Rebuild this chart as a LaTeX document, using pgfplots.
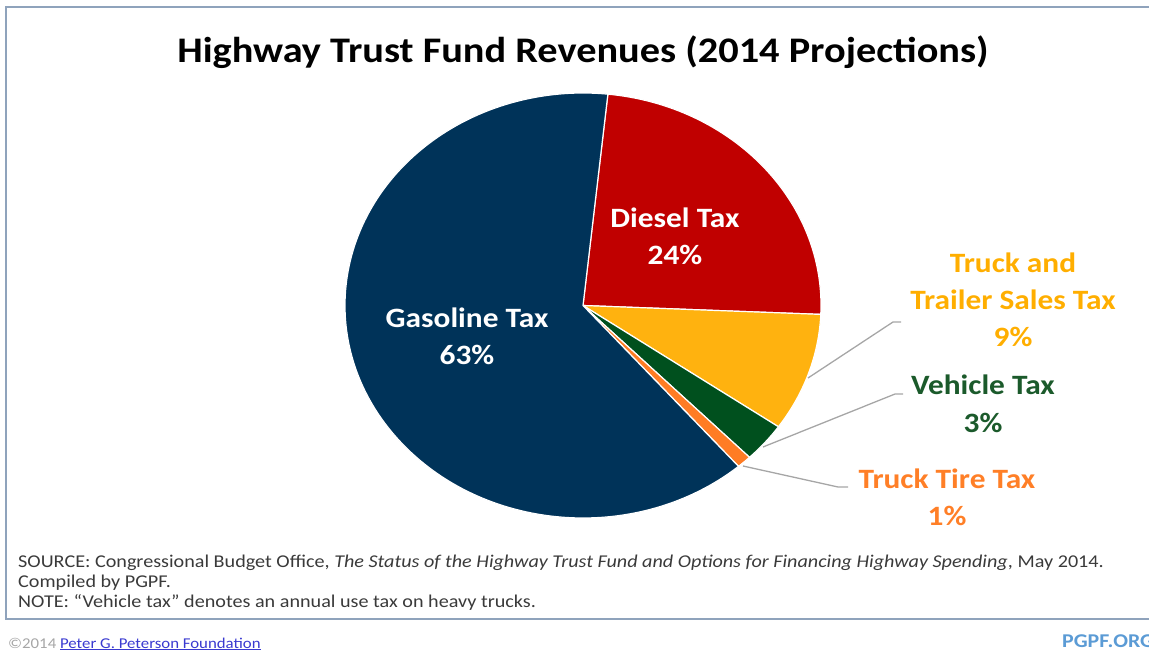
\documentclass[border=0pt]{standalone}
\usepackage{fontspec}
\setmainfont{Carlito}
\usepackage{graphicx}
\usepackage{pgfplots}
\usepackage{pgfplotstable}
\pgfplotsset{compat=1.18}

% the reference is stretched sideways, text too
\newcommand\sx[1]{\scalebox{1.12}[1]{#1}}

% slice colours, in drawing order (clockwise from the top)
\definecolor{slice0}{HTML}{C00000}
\definecolor{slice1}{HTML}{FFB20F}
\definecolor{slice2}{HTML}{00501E}
\definecolor{slice3}{HTML}{FF7C24}
\definecolor{slice4}{HTML}{003359}
\definecolor{frame}{HTML}{8FA3BC}
\definecolor{lead}{HTML}{A6A6A6}
\definecolor{note}{HTML}{3A3A3A}
\definecolor{ylw}{HTML}{FFAE00}
\definecolor{grn}{HTML}{1B5A2B}
\definecolor{org}{HTML}{FF7F27}

\pgfplotstableread{
label pct
Diesel 24
Trailer 9
Vehicle 3
Tire 1
Gasoline 63
}\pietab

\begin{document}
\begin{tikzpicture}
\begin{axis}[
    scale only axis,
    width=1149pt, height=652pt,
    xmin=0, xmax=1149, ymin=0, ymax=652,
    y dir=reverse,
    hide axis,
    clip=false,
  ]
  % frame
  \draw[frame, line width=2pt] (axis cs:6,7) rectangle (axis cs:1170,619);

  % pie slices from the table
  \def\pieang{84}
  \pgfplotsinvokeforeach{0,...,4}{
    \pgfplotstablegetelem{#1}{pct}\of\pietab
    \pgfmathsetmacro\pieend{\pieang-3.6*\pgfplotsretval}
    \edef\temp{\noexpand\fill[slice#1, draw=white, line width=1.2pt, line join=round]
      (axis cs:583,305.5) -- ++(\pieang:238pt and 212.5pt)
      arc[start angle=\pieang, end angle=\pieend, x radius=238pt, y radius=212.5pt] -- cycle;}
    \temp
    \xdef\pieang{\pieend}
  }

  % leader lines
  \draw[lead, line width=1.3pt] (axis cs:808,378) -- (axis cs:893,322) -- (axis cs:901,322);
  \draw[lead, line width=1.3pt] (axis cs:763,447) -- (axis cs:895,394) -- (axis cs:903,394);
  \draw[lead, line width=1.3pt] (axis cs:743,466) -- (axis cs:838,487) -- (axis cs:848,487);

  % title
  \node[anchor=base, font=\fontsize{36}{42}\selectfont\bfseries]
    at (axis cs:583,63) {\sx{Highway Trust Fund Revenues (2014 Projections)}};

  % slice labels
  \begin{scope}[every node/.style={anchor=base, font=\fontsize{28}{34}\selectfont\bfseries}]
    \node[white] at (axis cs:675,228) {\sx{Diesel Tax}};
    \node[white] at (axis cs:675,265) {\sx{24\%}};
    \node[white] at (axis cs:467,328) {\sx{Gasoline Tax}};
    \node[white] at (axis cs:467,365) {\sx{63\%}};
    \node[ylw] at (axis cs:1013,273) {\sx{Truck and}};
    \node[ylw] at (axis cs:1013,310) {\sx{Trailer Sales Tax}};
    \node[ylw] at (axis cs:1013,347) {\sx{9\%}};
    \node[grn] at (axis cs:983,395) {\sx{Vehicle Tax}};
    \node[grn] at (axis cs:983,432) {\sx{3\%}};
    \node[org] at (axis cs:947,488) {\sx{Truck Tire Tax}};
    \node[org] at (axis cs:947,525) {\sx{1\%}};
  \end{scope}

  % notes
  \begin{scope}[every node/.style={anchor=base west, inner sep=0pt, note, font=\fontsize{18}{20}\selectfont}]
    \node at (axis cs:18,567) {\sx{SOURCE: Congressional Budget Office, \textit{The Status of the Highway Trust Fund and Options for Financing Highway Spending}, May 2014.}};
    \node at (axis cs:18,587) {\sx{Compiled by PGPF.}};
    \node at (axis cs:18,607) {\sx{NOTE: “Vehicle tax” denotes an annual use tax on heavy trucks.}};
  \end{scope}

  % footer
  \node[anchor=base west, inner sep=0pt, font=\fontsize{15}{17}\selectfont]
    at (axis cs:8,648) {\sx{\textcolor[HTML]{A6A6A6}{©2014} \textcolor[HTML]{3A3AD0}{\underline{Peter G. Peterson Foundation}}}};
  \node[anchor=base west, inner sep=0pt, font=\fontsize{19.5}{22}\selectfont\bfseries]
    at (axis cs:1062,647) {\sx{\textcolor[HTML]{5B9BD5}{PGPF.ORG}}};
\end{axis}
\pgfresetboundingbox
\path[use as bounding box] (0,0) rectangle (1149pt,652pt);
\end{tikzpicture}
\end{document}
